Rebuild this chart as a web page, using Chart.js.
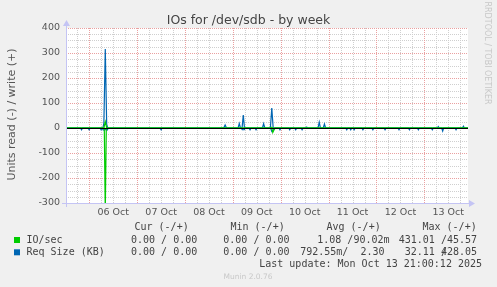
<!DOCTYPE html>
<html>
<head>
<meta charset="utf-8">
<script src="https://cdn.jsdelivr.net/npm/chart.js@4/dist/chart.umd.min.js"></script>
<style>
  html, body { margin: 0; padding: 0; background: #f0f0f0; }
  canvas { display: block; }
</style>
</head>
<body>
<canvas id="chart" width="497" height="287"></canvas>
<script>
// time axis is hours since 05 Oct 00:00
const xMin = 12.3;
const xMax = 213.9;

const dayTickHours = [36, 60, 84, 108, 132, 156, 180, 204];
const dayLabels = ['06 Oct', '07 Oct', '08 Oct', '09 Oct', '10 Oct', '11 Oct', '12 Oct', '13 Oct'];

// IO/sec, read (drawn negative) and write
const ioReadHours = [12.3, 31.5, 32.0, 32.5, 115.5, 116.0, 116.6, 117.2, 213.9];
const ioReadValues = [0, 0, -340, 0, 0, -18, -8, 0, 0];
const ioWriteHours = [12.3, 31.3, 32.0, 32.7, 115.0, 115.5, 116.0, 213.9];
const ioWriteValues = [0, 0, 25, 0, 0, 3, 0, 0];

// Req Size (KB), read (drawn negative) and write
const reqReadHours = [
  12.3, 19.6, 20.1, 20.6, 23.4, 23.9, 24.4, 29.4, 29.9, 30.4, 31.0, 32.0, 33.0, 33.5,
  59.5, 60.0, 60.5, 100.2, 100.7, 101.7, 102.2, 104.1, 104.6, 105.1, 107.1, 107.6, 108.1,
  114.9, 115.5, 116.3, 117.0, 119.1, 119.6, 120.1, 124.0, 124.5, 125.0, 127.0, 127.5, 128.0,
  130.2, 130.7, 131.2, 152.6, 153.1, 153.6, 154.6, 155.1, 155.6, 156.3, 156.8, 157.3,
  160.7, 161.2, 161.7, 165.7, 166.2, 166.7, 171.8, 172.3, 172.8, 178.8, 179.3, 179.8,
  184.0, 184.5, 185.0, 188.5, 189.0, 189.5, 195.5, 196.0, 196.5, 200.7, 201.2, 201.7,
  207.4, 207.9, 208.4, 213.9
];
const reqReadValues = [
  0, 0, -7, 0, 0, -7, 0, 0, -7, 0, -8, -6, -8, 0,
  0, -7, 0, 0, -7, -7, 0, 0, -7, 0, 0, -7, 0,
  0, -14, -8, 0, 0, -7, 0, 0, -7, 0, 0, -7, 0,
  0, -7, 0, 0, -7, 0, 0, -7, 0, 0, -7, 0,
  0, -7, 0, 0, -7, 0, 0, -7, 0, 0, -7, 0,
  0, -7, 0, 0, -7, 0, 0, -7, 0, 0, -12, 0,
  0, -7, 0, 0
];
const reqWriteHours = [
  12.3, 30.8, 31.3, 32.0, 32.7, 33.2, 91.4, 92.1, 92.8, 98.6, 99.2, 99.8, 100.6, 101.2, 101.8,
  110.8, 111.4, 112.0, 114.8, 115.5, 116.2, 132.5, 133.0, 133.5, 138.7, 139.3, 139.9,
  141.3, 141.9, 142.5, 198.5, 199.0, 199.5, 211.1, 211.6, 212.1, 213.9
];
const reqWriteValues = [
  0, 0, 20, 316, 15, 0, 0, 12, 0, 0, 18, 0, 0, 52, 0,
  0, 17, 0, 0, 80, 0, 0, 4, 0, 0, 23, 0,
  0, 16, 0, 0, 6, 0, 0, 7, 0, 0
];

const legendRows = [
  { label: 'IO/sec', color: '#00cc00', cur: '0.00 / 0.00', min: '0.00 / 0.00', avg: '1.08 /90.02m', max: '431.01 /45.57' },
  { label: 'Req Size (KB)', color: '#0066b3', cur: '0.00 / 0.00', min: '0.00 / 0.00', avg: '792.55m/  2.30', max: '32.11 428.05' },
];

const toPoints = (hours, values) => hours.map((h, i) => ({ x: h, y: values[i] }));

const muninFrame = {
  id: 'muninFrame',
  beforeDraw(chart) {
    const { ctx, chartArea: a } = chart;
    ctx.save();
    ctx.fillStyle = '#f0f0f0';
    ctx.fillRect(0, 0, chart.width, chart.height);
    ctx.fillStyle = '#ffffff';
    ctx.fillRect(a.left, a.top, a.right - a.left, a.bottom - a.top);
    ctx.restore();
  },
  beforeDatasetsDraw(chart) {
    const { ctx, chartArea: a, scales } = chart;
    const x = scales.x, y = scales.y;
    const vline = (px) => { ctx.beginPath(); ctx.moveTo(px, a.top); ctx.lineTo(px, a.bottom); ctx.stroke(); };
    const hline = (py) => { ctx.beginPath(); ctx.moveTo(a.left, py); ctx.lineTo(a.right, py); ctx.stroke(); };

    ctx.save();
    ctx.lineWidth = 1;
    ctx.setLineDash([1, 1]);
    ctx.strokeStyle = '#cfcfcf';
    for (let h = Math.ceil(xMin / 6) * 6; h <= xMax; h += 6) {
      if (h % 24 !== 0) vline(Math.round(x.getPixelForValue(h)) + 0.5);
    }
    for (let v = -300; v <= 400; v += 25) {
      if (v % 100 !== 0) hline(Math.round(y.getPixelForValue(v)) + 0.5);
    }
    ctx.strokeStyle = '#eaa0a0';
    for (let h = Math.ceil(xMin / 24) * 24; h <= xMax; h += 24) {
      vline(Math.round(x.getPixelForValue(h)) + 0.5);
    }
    for (let v = -300; v <= 400; v += 100) {
      hline(Math.round(y.getPixelForValue(v)) + 0.5);
    }
    ctx.restore();
  },
  afterDatasetsDraw(chart) {
    const { ctx, chartArea: a, scales } = chart;
    const y0 = Math.round(scales.y.getPixelForValue(0)) + 0.5;
    ctx.save();
    ctx.strokeStyle = '#000000';
    ctx.lineWidth = 1;
    ctx.beginPath();
    ctx.moveTo(a.left, y0);
    ctx.lineTo(a.right, y0);
    ctx.stroke();

    // axes with arrows
    const ax = Math.round(a.left) + 0.5;
    const ay = Math.round(a.bottom) + 0.5;
    ctx.strokeStyle = '#c4c4f4';
    ctx.fillStyle = '#c4c4f4';
    ctx.beginPath();
    ctx.moveTo(a.left - 4, ay);
    ctx.lineTo(a.right + 2, ay);
    ctx.moveTo(ax, a.bottom + 4);
    ctx.lineTo(ax, a.top - 3);
    ctx.stroke();
    ctx.beginPath();
    ctx.moveTo(a.right + 7, ay);
    ctx.lineTo(a.right + 1, ay - 3.5);
    ctx.lineTo(a.right + 1, ay + 3.5);
    ctx.closePath();
    ctx.fill();
    ctx.beginPath();
    ctx.moveTo(ax, a.top - 8);
    ctx.lineTo(ax - 3.5, a.top - 2);
    ctx.lineTo(ax + 3.5, a.top - 2);
    ctx.closePath();
    ctx.fill();
    ctx.restore();
  },
  afterDraw(chart) {
    const { ctx } = chart;
    ctx.save();

    ctx.fillStyle = '#444444';
    ctx.font = '12.5px "DejaVu Sans"';
    ctx.textAlign = 'center';
    ctx.textBaseline = 'alphabetic';
    ctx.fillText('IOs for /dev/sdb - by week', 248.5, 23.5);

    ctx.save();
    ctx.translate(15, 114.5);
    ctx.rotate(-Math.PI / 2);
    ctx.fillStyle = '#555555';
    ctx.font = '11px "DejaVu Sans"';
    ctx.fillText('Units read (-) / write (+)', 0, 0);
    ctx.restore();

    ctx.save();
    ctx.translate(485, 53);
    ctx.rotate(Math.PI / 2);
    ctx.fillStyle = '#c8c8c8';
    ctx.font = '8px "DejaVu Sans"';
    ctx.fillText('RRDTOOL / TOBI OETIKER', 0, 0);
    ctx.restore();

    ctx.font = '10px "DejaVu Sans Mono"';
    ctx.textAlign = 'left';
    ctx.textBaseline = 'middle';
    ctx.fillStyle = '#444444';
    ctx.fillText('Cur (-/+)', 134.5, 227.5);
    ctx.fillText('Min (-/+)', 230.5, 227.5);
    ctx.fillText('Avg (-/+)', 326.5, 227.5);
    ctx.fillText('Max (-/+)', 422.5, 227.5);

    legendRows.forEach((row, i) => {
      const ry = 240 + i * 12.3;
      ctx.fillStyle = row.color;
      ctx.fillRect(14, ry - 3, 6, 6);
      ctx.fillStyle = '#444444';
      ctx.fillText(row.label, 26.5, ry);
      ctx.fillText(row.cur, 131, ry);
      ctx.fillText(row.min, 223.3, ry);
      ctx.textAlign = 'right';
      ctx.fillText(row.avg, i === 0 ? 389.5 : 384.5, ry);
      ctx.fillText(row.max, 477, ry);
      ctx.textAlign = 'left';
    });
    // overprinted slash in the second max column
    ctx.fillText('/', 477 - 6 * 6.02, 240 + 12.3);

    ctx.textAlign = 'right';
    ctx.fillText('Last update: Mon Oct 13 21:00:12 2025', 482, 264);

    ctx.textAlign = 'center';
    ctx.fillStyle = '#c8c8c8';
    ctx.font = '7.5px "DejaVu Sans"';
    ctx.fillText('Munin 2.0.76', 248, 277);
    ctx.restore();
  },
};

new Chart(document.getElementById('chart').getContext('2d'), {
  type: 'line',
  data: {
    datasets: [
      { label: 'IO/sec read', data: toPoints(ioReadHours, ioReadValues), borderColor: '#00cc00', order: 0 },
      { label: 'IO/sec write', data: toPoints(ioWriteHours, ioWriteValues), borderColor: '#00cc00', order: 0 },
      { label: 'Req Size read', data: toPoints(reqReadHours, reqReadValues), borderColor: '#0066b3', order: 1 },
      { label: 'Req Size write', data: toPoints(reqWriteHours, reqWriteValues), borderColor: '#0066b3', order: 1 },
    ],
  },
  options: {
    responsive: false,
    animation: false,
    events: [],
    layout: { padding: { top: 28, right: 29, bottom: 0, left: 0 } },
    elements: {
      point: { radius: 0 },
      line: { borderWidth: 1.2, tension: 0, fill: false },
    },
    plugins: {
      legend: { display: false },
      title: { display: false },
      tooltip: { enabled: false },
    },
    scales: {
      x: {
        type: 'linear',
        min: xMin,
        max: xMax,
        afterBuildTicks(scale) {
          scale.ticks = dayTickHours.map((v) => ({ value: v }));
        },
        afterFit(scale) {
          scale.height = 84;
        },
        ticks: {
          autoSkip: false,
          maxRotation: 0,
          padding: 4,
          color: '#555555',
          font: { family: 'DejaVu Sans', size: 9.5 },
          callback: (value, index) => dayLabels[index],
        },
        grid: { display: false, drawTicks: false },
        border: { display: false },
      },
      y: {
        min: -300,
        max: 400,
        afterFit(scale) {
          scale.width = 66;
        },
        ticks: {
          stepSize: 100,
          padding: 6,
          color: '#555555',
          font: { family: 'DejaVu Sans', size: 9.5 },
        },
        grid: { display: false, drawTicks: false },
        border: { display: false },
      },
    },
  },
  plugins: [muninFrame],
});
</script>
</body>
</html>
